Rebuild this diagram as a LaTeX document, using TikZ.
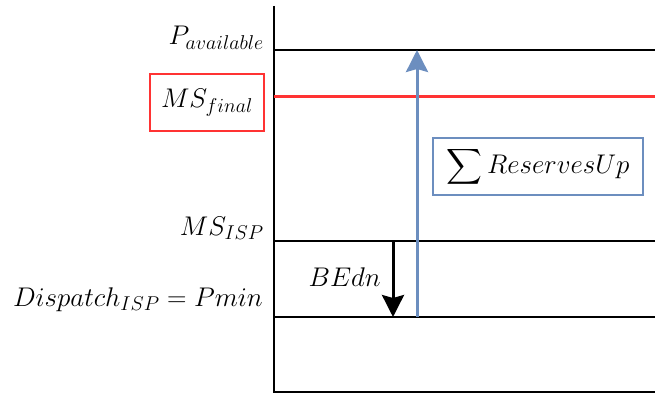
\documentclass[tikz,border=0pt]{standalone}
\usepackage{fix-cm}
\usepackage{amsmath}
\usepackage{xcolor}
\usetikzlibrary{positioning,arrows.meta}
\definecolor{resblue}{HTML}{6C8EBF}
\definecolor{msred}{HTML}{FF3333}
\DeclareMathSizes{27}{27}{20}{14}

\begin{document}
\begin{tikzpicture}[
    x=1pt,y=-1pt,
    >={Stealth[length=22pt,width=22pt,inset=3pt]},
    lvl/.style={line width=1.5pt},
    lbl/.style={anchor=base east,inner sep=0pt,font=\fontsize{27}{32}\selectfont},
    boxstyle/.style={draw,line width=1.2pt,minimum height=57pt,font=\fontsize{27}{32}\selectfont},
    arr/.style={->,line width=3pt}
]
\useasboundingbox (0,0) rectangle (655,393);

% axes
\coordinate (top) at (274,6);
\coordinate (origin) at (274,392);
\coordinate (xend) at (655,392);
\draw[line width=2pt] (top) -- (origin) -- (xend);

% levels
\coordinate (pa0) at (274,50);  \coordinate (pa1) at (655,50);
\coordinate (mf0) at (274,97);  \coordinate (mf1) at (655,97);
\coordinate (ms0) at (274,241); \coordinate (ms1) at (655,241);
\coordinate (dp0) at (274,317); \coordinate (dp1) at (655,317);
\draw[lvl] (pa0) -- (pa1);
\draw[lvl,msred,line width=3pt] (mf0) -- (mf1);
\draw[lvl] (ms0) -- (ms1);
\draw[lvl] (dp0) -- (dp1);

% labels
\node[lbl] (pavail) at (264,45) {$P_{available}$};
\node[boxstyle,draw=msred,minimum width=114pt] (msfinal) at (207,102.5) {$MS_{final}$};
\node[lbl] (msisp) at (264,235) {$MS_{ISP}$};
\node[lbl] (dispatch) at (263,306) {$Dispatch_{ISP}=Pmin$};
\node[boxstyle,draw=resblue,minimum width=210pt] (reserves) at (538,166.5) {$\displaystyle\sum ReservesUp$};
\node[lbl] (bedn) at (381,286) {$BEdn$};

% arrows
\coordinate (upstart) at (417,317);
\coordinate (upend) at (417,50);
\coordinate (dnstart) at (393,241);
\coordinate (dnend) at (393,317);
\draw[arr,resblue] (upstart) -- (upend);
\draw[arr] (dnstart) -- (dnend);
\end{tikzpicture}
\end{document}
